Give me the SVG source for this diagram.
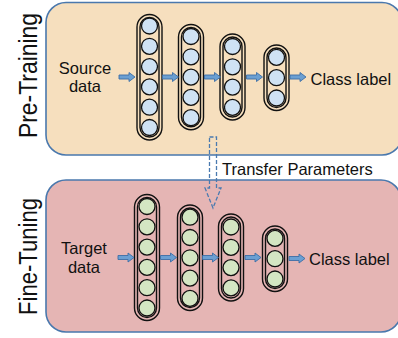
<svg xmlns="http://www.w3.org/2000/svg" xmlns:xlink="http://www.w3.org/1999/xlink" width="398" height="338" viewBox="0 0 398 338">
  <style>
    .panel { stroke: #4a78ad; stroke-width: 1.6; }
    .pre { fill: #f6dfbe; }
    .fine { fill: #e5b5b4; }
    .title { font-family: "Liberation Sans", Arial, sans-serif; font-size: 25px; fill: #111; }
    .label { font-family: "Liberation Sans", Arial, sans-serif; font-size: 16.5px; fill: #111; }
    .pill { fill: none; stroke: #111; stroke-width: 1.4; }
    .nb { fill: #cfe2f4; stroke: #111; stroke-width: 1.3; }
    .ng { fill: #d4e6c3; stroke: #111; stroke-width: 1.3; }
    .flow { fill: #6b9fd2; stroke: #3d6ea6; stroke-width: 0.9; }
    .transfer { fill: none; stroke: #4a7ab0; stroke-width: 1.3; stroke-dasharray: 4 2; }
  </style>
  <defs>
    <path id="flow" class="flow" d="M0,-2 H10 V-4.5 L16,0 L10,4.5 V2 H0 Z"/>
  </defs>

  <!-- Pre-training stage -->
  <g id="pretraining">
    <rect class="panel pre" x="46" y="2.5" width="356" height="152.5" rx="20"/>
    <text class="title" transform="translate(36.5,75.5) rotate(-90)" text-anchor="middle" textLength="125" lengthAdjust="spacingAndGlyphs">Pre-Training</text>
    <text class="label" text-anchor="middle"><tspan x="85" y="73.5">Source</tspan><tspan x="85" y="92">data</tspan></text>
    <text class="label" x="310.5" y="85">Class label</text>
  </g>

  <g id="pre-layer1">
    <rect class="pill" x="137" y="14.5" width="25" height="125.5" rx="12.5"/>
    <rect class="pill" x="140" y="17.5" width="19" height="119.5" rx="9.5"/>
    <circle class="nb" cx="149.5" cy="26" r="8"/>
    <circle class="nb" cx="149.5" cy="46.3" r="8"/>
    <circle class="nb" cx="149.5" cy="66.6" r="8"/>
    <circle class="nb" cx="149.5" cy="86.9" r="8"/>
    <circle class="nb" cx="149.5" cy="107.2" r="8"/>
    <circle class="nb" cx="149.5" cy="127.5" r="8"/>
  </g>
  <g id="pre-layer2">
    <rect class="pill" x="178.5" y="24.5" width="25" height="105.2" rx="12.5"/>
    <rect class="pill" x="181.5" y="27.5" width="19" height="99.2" rx="9.5"/>
    <circle class="nb" cx="191" cy="36.5" r="8"/>
    <circle class="nb" cx="191" cy="56.8" r="8"/>
    <circle class="nb" cx="191" cy="77.1" r="8"/>
    <circle class="nb" cx="191" cy="97.4" r="8"/>
    <circle class="nb" cx="191" cy="117.7" r="8"/>
  </g>
  <g id="pre-layer3">
    <rect class="pill" x="220" y="34" width="25" height="86" rx="12.5"/>
    <rect class="pill" x="223" y="37" width="19" height="80" rx="9.5"/>
    <circle class="nb" cx="232.5" cy="46.5" r="8"/>
    <circle class="nb" cx="232.5" cy="66.8" r="8"/>
    <circle class="nb" cx="232.5" cy="87.1" r="8"/>
    <circle class="nb" cx="232.5" cy="107.4" r="8"/>
  </g>
  <g id="pre-layer4">
    <rect class="pill" x="264" y="45" width="25" height="65.5" rx="12.5"/>
    <rect class="pill" x="267" y="48" width="19" height="59.5" rx="9.5"/>
    <circle class="nb" cx="276.5" cy="57.4" r="8"/>
    <circle class="nb" cx="276.5" cy="77.7" r="8"/>
    <circle class="nb" cx="276.5" cy="98" r="8"/>
  </g>

  <!-- Fine-tuning stage -->
  <g id="finetuning">
    <rect class="panel fine" x="46" y="180" width="355" height="152" rx="20"/>
    <text class="title" transform="translate(36.5,256.5) rotate(-90)" text-anchor="middle" textLength="117" lengthAdjust="spacingAndGlyphs">Fine-Tuning</text>
    <text class="label" text-anchor="middle"><tspan x="84" y="254">Target</tspan><tspan x="84" y="272.5">data</tspan></text>
    <text class="label" x="309" y="265">Class label</text>
  </g>

  <g id="fine-layer1">
    <rect class="pill" x="134.5" y="194.5" width="25" height="126" rx="12.5"/>
    <rect class="pill" x="137.5" y="197.5" width="19" height="120" rx="9.5"/>
    <circle class="nb ng" cx="147" cy="206.5" r="8"/>
    <circle class="nb ng" cx="147" cy="226.8" r="8"/>
    <circle class="nb ng" cx="147" cy="247.1" r="8"/>
    <circle class="nb ng" cx="147" cy="267.4" r="8"/>
    <circle class="nb ng" cx="147" cy="287.7" r="8"/>
    <circle class="nb ng" cx="147" cy="308" r="8"/>
  </g>
  <g id="fine-layer2">
    <rect class="pill" x="177.5" y="205" width="25" height="105.5" rx="12.5"/>
    <rect class="pill" x="180.5" y="208" width="19" height="99.5" rx="9.5"/>
    <circle class="nb ng" cx="190" cy="217.2" r="8"/>
    <circle class="nb ng" cx="190" cy="237.5" r="8"/>
    <circle class="nb ng" cx="190" cy="257.8" r="8"/>
    <circle class="nb ng" cx="190" cy="278.1" r="8"/>
    <circle class="nb ng" cx="190" cy="298.4" r="8"/>
  </g>
  <g id="fine-layer3">
    <rect class="pill" x="218.5" y="214" width="25" height="87" rx="12.5"/>
    <rect class="pill" x="221.5" y="217" width="19" height="81" rx="9.5"/>
    <circle class="nb ng" cx="231" cy="227" r="8"/>
    <circle class="nb ng" cx="231" cy="247.3" r="8"/>
    <circle class="nb ng" cx="231" cy="267.6" r="8"/>
    <circle class="nb ng" cx="231" cy="287.9" r="8"/>
  </g>
  <g id="fine-layer4">
    <rect class="pill" x="262.5" y="226" width="25" height="65.5" rx="12.5"/>
    <rect class="pill" x="265.5" y="229" width="19" height="59.5" rx="9.5"/>
    <circle class="nb ng" cx="275" cy="238.4" r="8"/>
    <circle class="nb ng" cx="275" cy="258.7" r="8"/>
    <circle class="nb ng" cx="275" cy="279" r="8"/>
  </g>

  <!-- Connectors -->
  <g id="connectors">
    <use xlink:href="#flow" x="119" y="77"/>
    <use xlink:href="#flow" x="162.5" y="77"/>
    <use xlink:href="#flow" x="204.5" y="77"/>
    <use xlink:href="#flow" x="246.5" y="77"/>
    <use xlink:href="#flow" x="290" y="77"/>
    <use xlink:href="#flow" x="118" y="257.5"/>
    <use xlink:href="#flow" x="160.5" y="257.5"/>
    <use xlink:href="#flow" x="202.5" y="257.5"/>
    <use xlink:href="#flow" x="245" y="257.5"/>
    <use xlink:href="#flow" x="289" y="258.5"/>
    <path class="transfer" d="M209.5,137 H216.5 V188 H221 L213,208 L205,188 H209.5 Z"/>
    <text class="label" x="222" y="174.5">Transfer Parameters</text>
  </g>
</svg>
